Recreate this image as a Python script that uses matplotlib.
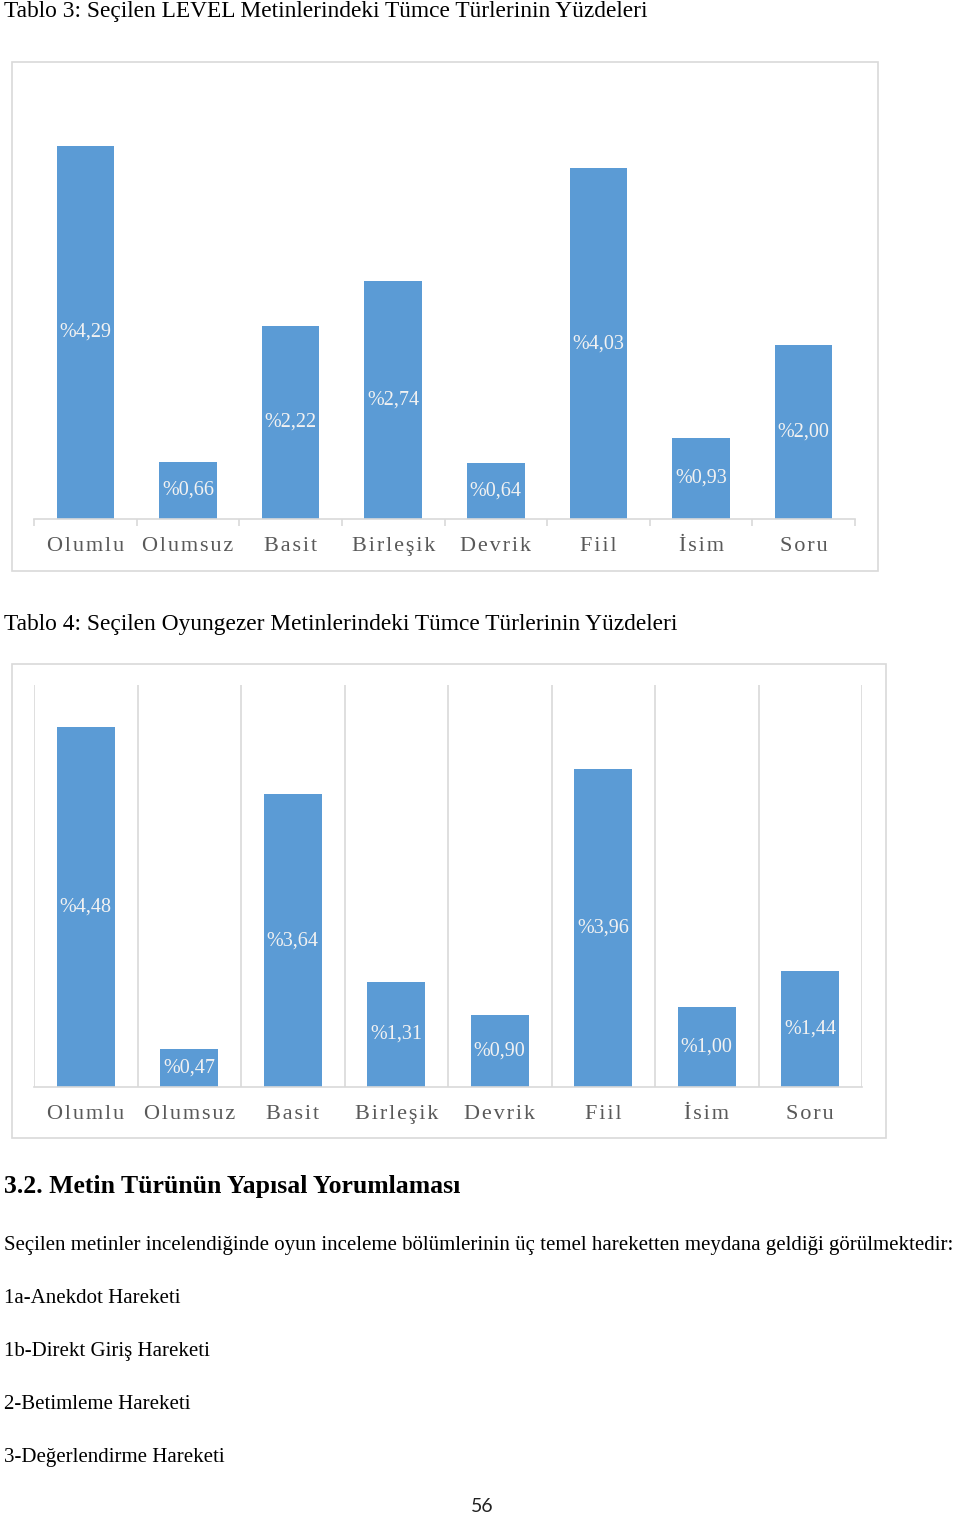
import matplotlib
matplotlib.use('Agg')
import matplotlib.pyplot as plt
from matplotlib.patches import Rectangle

plt.rcParams['font.family'] = ['Liberation Serif', 'DejaVu Serif']

# data
categories = ['Olumlu', 'Olumsuz', 'Basit', 'Birleşik', 'Devrik', 'Fiil', 'İsim', 'Soru']
level_values = [4.29, 0.66, 2.22, 2.74, 0.64, 4.03, 0.93, 2.00]
oyungezer_values = [4.48, 0.47, 3.64, 1.31, 0.90, 3.96, 1.00, 1.44]

title_level = 'Tablo 3: Seçilen LEVEL Metinlerindeki Tümce Türlerinin Yüzdeleri'
title_oyungezer = 'Tablo 4: Seçilen Oyungezer Metinlerindeki Tümce Türlerinin Yüzdeleri'
heading = '3.2. Metin Türünün Yapısal Yorumlaması'
paragraph = ('Seçilen metinler incelendiğinde oyun inceleme bölümlerinin üç temel '
             'hareketten meydana geldiği görülmektedir:')
moves = ['1a-Anekdot Hareketi', '1b-Direkt Giriş Hareketi',
         '2-Betimleme Hareketi', '3-Değerlendirme Hareketi']
page_number = '56'

W, H = 960, 1515
BLUE = '#5B9BD5'
GRID = '#D9D9D9'
LABEL = '#595959'

fig = plt.figure(figsize=(W / 100, H / 100), dpi=100)


def box(x0, y0, x1, y1):
    # pixel box (top-left origin) -> figure fraction [l, b, w, h]
    return [x0 / W, 1 - y1 / H, (x1 - x0) / W, (y1 - y0) / H]


def frame(x0, y0, x1, y1):
    l, b, w, h = box(x0, y0, x1, y1)
    fig.patches.append(Rectangle((l, b), w, h, transform=fig.transFigure,
                                 fill=False, edgecolor=GRID, linewidth=1.2))


def spaced(word):
    # the category labels are letter-spaced in the original
    return '\u200a'.join(word)


def bar_chart(rect, values, gridlines):
    ax = fig.add_axes(rect)
    x = range(len(values))
    bars = ax.bar(x, values, width=0.56, color=BLUE)
    ax.set_xlim(-0.5, len(values) - 0.5)
    ax.set_ylim(0, 5)
    for b, v in zip(bars, values):
        ax.text(b.get_x() + b.get_width() / 2, v / 2,
                '%' + f'{v:.2f}'.replace('.', ','),
                ha='center', va='center', color='#F2F2F2', fontsize=14.5)
    for s in ['top', 'left', 'right']:
        ax.spines[s].set_visible(False)
    ax.spines['bottom'].set_color(GRID)
    ax.spines['bottom'].set_linewidth(1.2)
    ax.set_yticks([])
    ax.set_xticks(list(x))
    ax.set_xticklabels([spaced(c) for c in categories], color=LABEL, fontsize=16)
    ax.tick_params(axis='x', which='major', length=0, pad=13)
    ax.set_xticks([i - 0.5 for i in range(len(values) + 1)], minor=True)
    if gridlines:
        ax.tick_params(axis='x', which='minor', length=0)
        ax.grid(axis='x', which='minor', color=GRID, linewidth=1.2)
        ax.set_axisbelow(True)
    else:
        ax.tick_params(axis='x', which='minor', length=5, width=1.2, color=GRID)
    return ax


# Tablo 3
fig.text(4 / W, 1 - 17 / H, title_level, fontsize=16.8, va='baseline')
frame(12, 62, 878, 571)
bar_chart(box(34, 84, 855, 519), level_values, gridlines=False)

# Tablo 4
fig.text(4 / W, 1 - 630 / H, title_oyungezer, fontsize=16.8, va='baseline')
frame(12, 664, 886, 1138)
bar_chart(box(34, 685, 862, 1087), oyungezer_values, gridlines=True)

# body text
fig.text(4 / W, 1 - 1193 / H, heading, fontsize=18.5, fontweight='bold', va='baseline')
fig.text(4 / W, 1 - 1250 / H, paragraph, fontsize=15.05, va='baseline')
for i, m in enumerate(moves):
    fig.text(4 / W, 1 - (1303 + 53 * i) / H, m, fontsize=15, va='baseline')
fig.text(482 / W, 1 - 1512 / H, page_number, fontsize=14, ha='center',
         va='baseline', family='Lato', color='#222222')

fig.savefig('out.png', dpi=100)
